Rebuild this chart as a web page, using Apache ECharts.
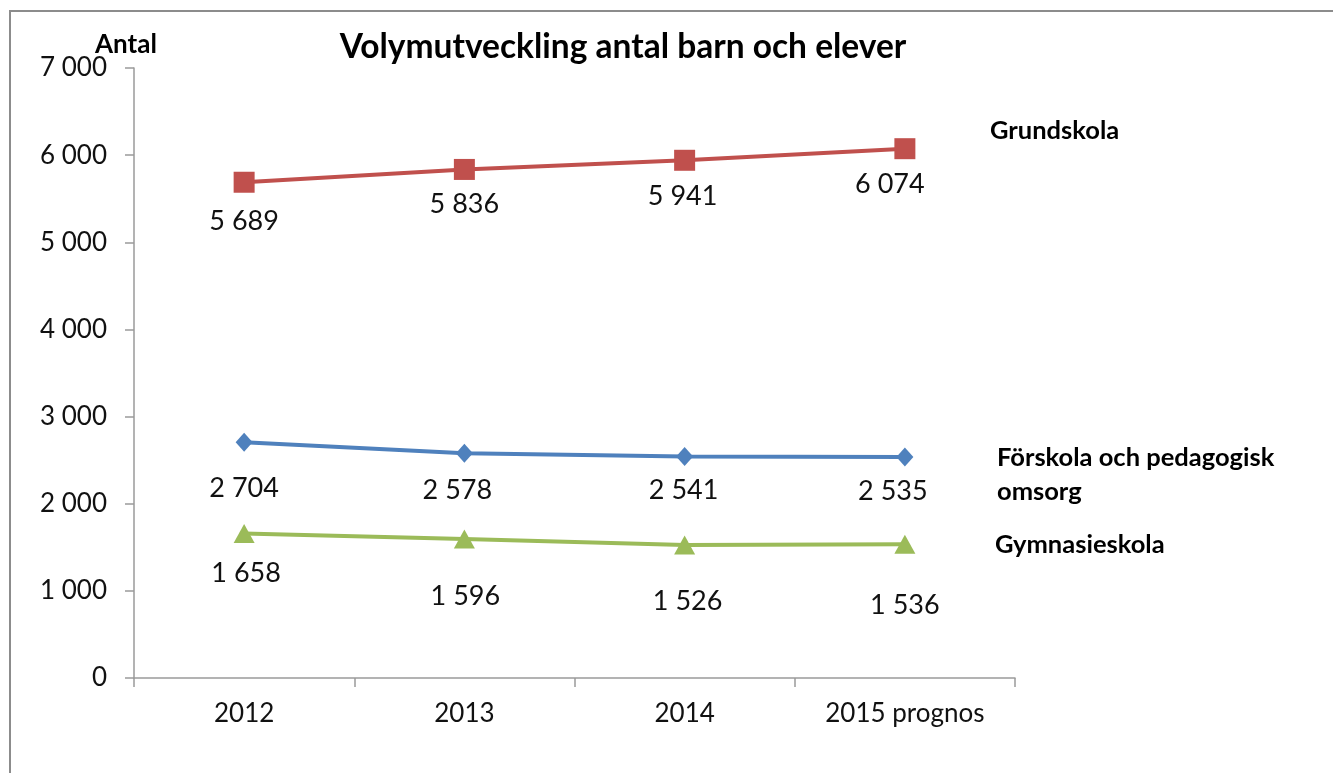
<!DOCTYPE html>
<html>
<head>
<meta charset="utf-8">
<script src="https://cdn.jsdelivr.net/npm/echarts@6/dist/echarts.min.js"></script>
<style>
html,body{margin:0;padding:0;background:#fff;}
#chart{width:1333px;height:773px;}
</style>
</head>
<body>
<div id="chart"></div>
<script>
const titleText = 'Volymutveckling antal barn och elever';
const yAxisName = 'Antal';
const categories = ['2012', '2013', '2014', '2015 prognos'];
const yTicks = [0, 1000, 2000, 3000, 4000, 5000, 6000, 7000];
const seriesNames = ['Grundskola', 'Förskola och pedagogisk\nomsorg', 'Gymnasieskola'];
const grundskola = [5689, 5836, 5941, 6074];
const forskola = [2704, 2578, 2541, 2535];
const gymnasieskola = [1658, 1596, 1526, 1536];

// label offsets (dx, dy) relative to each point, as in the picture
const grundOffsets = [[0, 39], [0, 35], [-2, 36], [-15, 36]];
const forskOffsets = [[0, 46], [-7, 37], [-1, 34], [-12, 34]];
const gymnOffsets = [[2, 40], [1, 57], [3, 56], [0, 61]];

const colors = ['#C0504D', '#4F81BD', '#9BBB59'];
const FONT = 'Lato';

function fmt(v) {
  return String(v).replace(/\B(?=(\d{3})+(?!\d))/g, ' ');
}

function buildData(values, offsets) {
  return values.map((v, i) => ({ value: v, label: { offset: offsets[i] } }));
}

function mkSeries(name, values, offsets, color, symbol, size) {
  return {
    name: name,
    type: 'line',
    data: buildData(values, offsets),
    symbol: symbol,
    symbolSize: size,
    lineStyle: { color: color, width: 4 },
    itemStyle: { color: color },
    label: {
      show: true,
      position: 'inside',
      formatter: p => fmt(p.value),
      fontFamily: FONT,
      fontSize: 27,
      color: '#111'
    },
    emphasis: { disabled: true },
    animation: false
  };
}

const chart = echarts.init(document.getElementById('chart'), null, { renderer: 'canvas' });
chart.setOption({
  backgroundColor: '#fff',
  animation: false,
  grid: { left: 134, right: 318, top: 68, bottom: 95, containLabel: false },
  xAxis: {
    type: 'category',
    data: categories,
    boundaryGap: true,
    axisLine: { lineStyle: { color: '#9a9a9a', width: 1.5 } },
    axisTick: { show: true, length: 9, interval: 0, lineStyle: { color: '#9a9a9a', width: 1.5 } },
    axisLabel: { fontFamily: FONT, fontSize: 26, color: '#111', margin: 23, interval: 0 },
    splitLine: { show: false }
  },
  yAxis: {
    type: 'value',
    min: yTicks[0],
    max: yTicks[yTicks.length - 1],
    interval: yTicks[1] - yTicks[0],
    axisLine: { show: true, lineStyle: { color: '#9a9a9a', width: 1.5 } },
    axisTick: { show: true, length: 9, lineStyle: { color: '#9a9a9a', width: 1.5 } },
    axisLabel: { fontFamily: FONT, fontSize: 26, color: '#111', margin: 27, formatter: v => fmt(v) },
    splitLine: { show: false }
  },
  series: [
    mkSeries(seriesNames[0], grundskola, grundOffsets, colors[0], 'rect', 21),
    mkSeries(seriesNames[1], forskola, forskOffsets, colors[1], 'diamond', [17, 19]),
    mkSeries(seriesNames[2], gymnasieskola, gymnOffsets, colors[2], 'triangle', [21, 19])
  ],
  graphic: [
    { type: 'rect', shape: { x: 10, y: 11, width: 1340, height: 790 }, style: { fill: 'none', stroke: '#8c8c8c', lineWidth: 2 }, silent: true },
    { type: 'text', x: 623, y: 47, style: { text: titleText, font: 'bold 33.5px ' + FONT, fill: '#000', textAlign: 'center', textVerticalAlign: 'middle' } },
    { type: 'text', x: 95, y: 45, style: { text: yAxisName, font: 'bold 26px ' + FONT, fill: '#000', textAlign: 'left', textVerticalAlign: 'middle' } },
    { type: 'text', x: 990, y: 131, style: { text: seriesNames[0], font: 'bold 25.5px ' + FONT, fill: '#000', textAlign: 'left', textVerticalAlign: 'middle' } },
    { type: 'text', x: 997, y: 475, style: { text: seriesNames[1], font: 'bold 25.5px ' + FONT, lineHeight: 34, fill: '#000', textAlign: 'left', textVerticalAlign: 'middle' } },
    { type: 'text', x: 995, y: 545, style: { text: seriesNames[2], font: 'bold 25.5px ' + FONT, fill: '#000', textAlign: 'left', textVerticalAlign: 'middle' } }
  ]
});
</script>
</body>
</html>
